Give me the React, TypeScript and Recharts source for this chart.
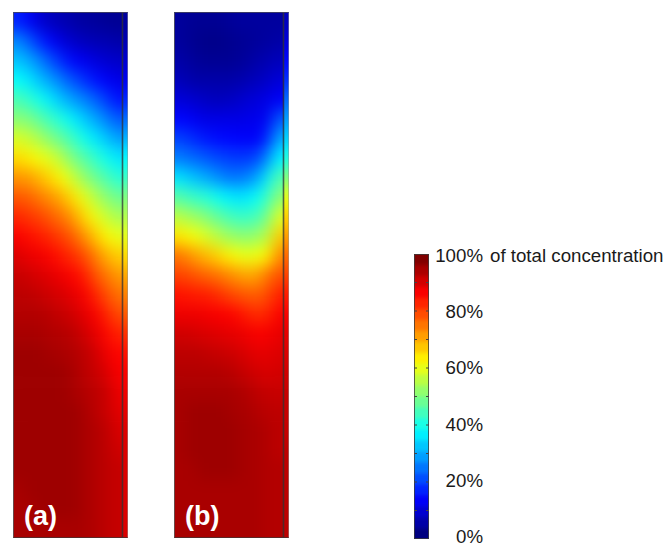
/**
 * Two concentration maps (a) and (b) with a shared jet colour bar. Each map is a coarse grid of
 * values; a small blur on the layer gives back the smooth shading.
 */

import { ReferenceLine, Scatter, ScatterChart, XAxis, YAxis } from "recharts";

// Each inner list is one column of the map, top to bottom, in % of total concentration.
const PANEL_A = [
  [16, 26, 32, 38, 45, 51, 59, 66, 73, 79, 84, 88, 91, 93, 94, 95, 96, 97, 97, 97, 97, 97, 97, 97, 96, 96, 96],
  [12, 21, 29, 35, 42, 50, 57, 64, 72, 78, 82, 86, 89, 92, 94, 95, 96, 97, 97, 97, 97, 97, 97, 97, 97, 96, 96],
  [8, 16, 25, 31, 39, 46, 54, 61, 69, 75, 81, 85, 89, 91, 93, 95, 96, 97, 97, 97, 97, 97, 97, 97, 97, 97, 96],
  [6, 12, 20, 28, 35, 43, 50, 59, 66, 73, 78, 83, 87, 90, 92, 94, 95, 96, 97, 97, 97, 97, 97, 97, 97, 97, 96],
  [5, 9, 16, 24, 31, 40, 47, 55, 62, 70, 76, 81, 85, 89, 91, 93, 95, 96, 97, 97, 97, 97, 97, 97, 97, 97, 96],
  [4, 7, 12, 20, 28, 36, 43, 49, 57, 65, 72, 78, 83, 87, 90, 92, 94, 95, 96, 96, 97, 97, 97, 97, 97, 97, 96],
  [3, 6, 11, 17, 25, 32, 39, 46, 52, 60, 66, 73, 80, 85, 88, 90, 92, 94, 94, 95, 96, 96, 96, 96, 96, 96, 96],
  [3, 5, 9, 14, 22, 29, 35, 42, 48, 55, 61, 68, 75, 79, 84, 88, 90, 92, 93, 94, 94, 95, 95, 95, 95, 95, 95],
  [2, 5, 8, 12, 18, 25, 32, 39, 45, 51, 57, 63, 70, 76, 80, 84, 87, 89, 91, 93, 93, 94, 94, 94, 94, 94, 94],
  [2, 4, 7, 10, 14, 21, 28, 35, 41, 48, 54, 60, 67, 72, 76, 80, 84, 87, 88, 89, 90, 91, 92, 93, 93, 93, 93],
];
const BAND_A = [[3, 5, 8, 11, 16, 23, 30, 37, 43, 50, 55, 60, 66, 71, 75, 79, 83, 86, 88, 89, 90, 91, 91, 91, 91, 91, 91]];

const PANEL_B = [
  [3, 3, 4, 6, 9, 13, 19, 25, 35, 46, 56, 65, 76, 81, 86, 89, 92, 94, 95, 96, 96, 96, 96, 96, 96, 96, 96],
  [2, 2, 3, 4, 8, 12, 17, 23, 32, 43, 53, 62, 73, 80, 85, 89, 92, 94, 95, 96, 97, 97, 97, 96, 96, 96, 96],
  [2, 1, 2, 4, 7, 10, 15, 22, 30, 42, 52, 60, 70, 78, 85, 89, 91, 94, 95, 96, 97, 97, 97, 97, 96, 96, 96],
  [2, 1, 2, 4, 6, 10, 14, 20, 28, 40, 48, 57, 68, 77, 84, 88, 91, 93, 95, 96, 97, 97, 97, 97, 96, 96, 96],
  [2, 1, 2, 4, 6, 10, 13, 19, 25, 37, 46, 54, 65, 75, 82, 88, 90, 93, 95, 96, 97, 97, 97, 97, 96, 96, 96],
  [3, 2, 2, 4, 7, 10, 13, 18, 24, 35, 43, 52, 62, 73, 80, 87, 90, 92, 94, 96, 96, 97, 97, 97, 96, 96, 96],
  [3, 2, 3, 5, 8, 10, 12, 18, 25, 35, 43, 51, 60, 71, 79, 85, 89, 91, 93, 95, 96, 96, 96, 96, 96, 96, 96],
  [3, 3, 4, 6, 9, 11, 12, 19, 28, 38, 44, 52, 61, 71, 78, 83, 88, 90, 92, 94, 95, 96, 96, 96, 96, 96, 96],
  [3, 3, 5, 7, 10, 11, 16, 26, 36, 43, 49, 56, 63, 76, 80, 84, 88, 90, 91, 93, 94, 95, 95, 95, 95, 95, 95],
  [3, 4, 6, 9, 12, 22, 30, 37, 46, 52, 60, 68, 75, 80, 85, 88, 90, 91, 92, 93, 94, 94, 94, 95, 95, 95, 95],
];
const BAND_B = [[6, 9, 13, 17, 23, 28, 33, 40, 50, 60, 67, 72, 77, 81, 85, 88, 90, 91, 92, 93, 93, 93, 94, 94, 94, 94, 94]];

const COLOR_BAR = [[100, 96, 92, 88, 84, 80, 76, 72, 68, 64, 60, 56, 52, 48, 44, 40, 36, 32, 28, 24, 20, 16, 12, 8, 4, 0]];
const BAR_TICKS = [0, 20, 40, 60, 80, 100];
const BAR_MARKS = [10, 20, 30, 40, 50, 60, 70, 80, 90];

const JET_STOPS = [
  { at: 0, rgb: [0, 0, 128] },
  { at: 12.5, rgb: [0, 0, 255] },
  { at: 37.5, rgb: [0, 255, 255] },
  { at: 62.5, rgb: [255, 255, 0] },
  { at: 87.5, rgb: [255, 0, 0] },
  { at: 100, rgb: [128, 0, 0] },
];

const FONT = "'Liberation Sans', Arial, sans-serif";
const PAD = 30;

function jet(v: number) {
  let i = 0;
  while (i < JET_STOPS.length - 2 && v > JET_STOPS[i + 1].at) i++;
  const a = JET_STOPS[i];
  const b = JET_STOPS[i + 1];
  const t = (v - a.at) / (b.at - a.at);
  const [r, g, bl] = a.rgb.map((c, k) => Math.round(c + (b.rgb[k] - c) * t));
  return `rgb(${r},${g},${bl})`;
}

interface HeatProps {
  columns: number[][];
  left: number;
  top: number;
  width: number;
  height: number;
  blur: number;
}

function HeatLayer({ columns, left, top, width, height, blur }: HeatProps) {
  const rows = columns[0].length;
  const cellW = width / columns.length;
  const cellH = height / rows;
  const cells = columns.flatMap((col, c) =>
    col.map((value, r) => ({ col: c + 0.5, row: r + 0.5, value, c, r })),
  );

  // Edge cells run on under the clip so the blur does not fade out at the border.
  const renderCell = (props: any) => {
    const { cx, cy, payload } = props;
    const x0 = cx - cellW / 2 - (payload.c === 0 ? PAD : 0);
    const x1 = cx + cellW / 2 + (payload.c === columns.length - 1 ? PAD : 0.5);
    const y0 = cy - cellH / 2 - (payload.r === 0 ? PAD : 0);
    const y1 = cy + cellH / 2 + (payload.r === rows - 1 ? PAD : 0.5);
    return <rect x={x0} y={y0} width={x1 - x0} height={y1 - y0} fill={jet(payload.value)} />;
  };

  return (
    <div style={{ position: "absolute", left, top, width, height, overflow: "hidden" }}>
      <div style={{ position: "absolute", left: -PAD, top: -PAD, filter: `blur(${blur}px)` }}>
        <ScatterChart
          width={width + PAD * 2}
          height={height + PAD * 2}
          margin={{ top: PAD, right: PAD, bottom: PAD, left: PAD }}
        >
          <XAxis type="number" dataKey="col" domain={[0, columns.length]} hide />
          <YAxis type="number" dataKey="row" domain={[0, rows]} reversed hide />
          <Scatter data={cells} shape={renderCell} isAnimationActive={false} />
        </ScatterChart>
      </div>
    </div>
  );
}

const NoMark = () => <g />;

// Thin frame and the inner wall line, drawn on top of the shading.
function Frame({ left, width, wall }: { left: number; width: number; wall: number }) {
  const ends = [
    { x: wall, y: 0 },
    { x: wall, y: 526 },
  ];
  return (
    <div style={{ position: "absolute", left, top: 12, width, height: 526, pointerEvents: "none" }}>
      <ScatterChart width={width} height={526} margin={{ top: 0, right: 0, bottom: 0, left: 0 }}>
        <XAxis type="number" dataKey="x" domain={[0, width]} hide />
        <YAxis type="number" dataKey="y" domain={[0, 526]} hide />
        <Scatter data={ends} shape={NoMark} isAnimationActive={false} />
        <ReferenceLine x={wall} stroke="#333" strokeOpacity={0.75} strokeWidth={1.6} />
      </ScatterChart>
      <div
        style={{
          position: "absolute",
          inset: 0,
          boxSizing: "border-box",
          borderLeft: "1px solid rgba(90,90,90,0.8)",
          borderTop: "1px solid rgba(70,70,90,0.8)",
          borderBottom: "1px solid rgba(70,50,50,0.8)",
          borderRight: "1px solid rgba(150,150,150,0.5)",
        }}
      />
    </div>
  );
}

const PanelLabel = ({ left, text }: { left: number; text: string }) => (
  <div
    style={{
      position: "absolute",
      left,
      top: 501,
      color: "#fff",
      fontFamily: FONT,
      fontWeight: 700,
      fontSize: 27,
      lineHeight: "30px",
    }}
  >
    {text}
  </div>
);

function BarTick({ x, y, payload }: any) {
  const style = { fontFamily: FONT, fontSize: 18.7, fill: "#1a1a1a" };
  return (
    <g>
      <text x={x} y={y} dy={6} textAnchor="end" style={style}>
        {`${payload.value}%`}
      </text>
      {payload.value === 100 && (
        <text x={x + 7} y={y} dy={6} style={style}>
          of total concentration
        </text>
      )}
    </g>
  );
}

// Short stubs on both inner edges of the colour bar.
const BarMark = ({ cx, cy }: any) => (
  <g stroke="#444" strokeWidth={1}>
    <line x1={cx - 7.5} x2={cx - 4.5} y1={cy} y2={cy} />
    <line x1={cx + 4.5} x2={cx + 7.5} y1={cy} y2={cy} />
  </g>
);

export default function App() {
  const tickRows = BAR_TICKS.map((y) => ({ x: 0.5, y }));
  const markRows = BAR_MARKS.map((y) => ({ x: 0.5, y }));
  return (
    <div style={{ position: "absolute", left: 0, top: 0, width: 669, height: 544, background: "#fff", overflow: "hidden" }}>
      <HeatLayer columns={PANEL_A} left={13} top={12} width={110} height={526} blur={8} />
      <HeatLayer columns={BAND_A} left={123} top={12} width={5} height={526} blur={8} />
      <Frame left={13} width={115} wall={109.5} />
      <PanelLabel left={24} text="(a)" />

      <HeatLayer columns={PANEL_B} left={174} top={12} width={110} height={526} blur={8} />
      <HeatLayer columns={BAND_B} left={284} top={12} width={5} height={526} blur={8} />
      <Frame left={174} width={115} wall={109.5} />
      <PanelLabel left={185} text="(b)" />

      <HeatLayer columns={COLOR_BAR} left={414} top={254} width={15} height={285} blur={2} />
      <div
        style={{
          position: "absolute",
          left: 414,
          top: 254,
          width: 15,
          height: 285,
          boxSizing: "border-box",
          border: "1px solid rgba(60,60,60,0.8)",
        }}
      />
      <div style={{ position: "absolute", left: 414, top: 254 }}>
        <ScatterChart width={15} height={285} margin={{ top: 0, right: 0, bottom: 0, left: 0 }}>
          <XAxis type="number" dataKey="x" domain={[0, 1]} hide />
          <YAxis type="number" dataKey="y" domain={[0, 100]} hide />
          <Scatter data={markRows} shape={BarMark} isAnimationActive={false} />
        </ScatterChart>
      </div>

      <div style={{ position: "absolute", left: 400, top: 240 }}>
        <ScatterChart width={269} height={304} margin={{ top: 16, right: 0, bottom: 7, left: 0 }}>
          <XAxis type="number" dataKey="x" domain={[0, 1]} hide />
          <YAxis
            type="number"
            dataKey="y"
            domain={[0, 100]}
            ticks={BAR_TICKS}
            width={83}
            axisLine={false}
            tickLine={false}
            tickSize={0}
            tickMargin={0}
            tick={<BarTick />}
            interval={0}
          />
          <Scatter data={tickRows} shape={NoMark} isAnimationActive={false} />
        </ScatterChart>
      </div>
    </div>
  );
}
